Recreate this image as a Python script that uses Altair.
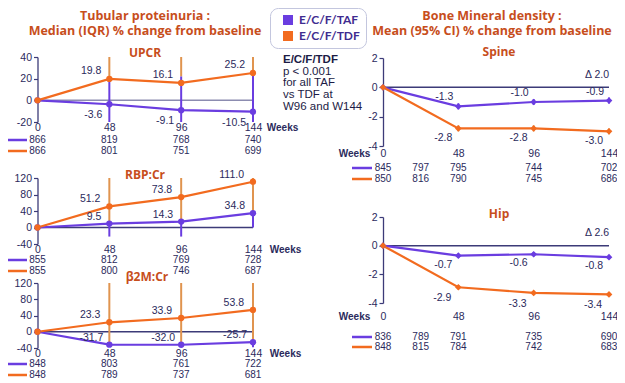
import altair as alt
import pandas as pd

# ---------------- data ----------------
SERIES = ["E/C/F/TAF", "E/C/F/TDF"]
WEEKS = [0, 48, 96, 144]
N_WEEKS_TP = [0, 48, 96, 144]
N_WEEKS_BMD = [0, 24, 48, 96, 144]

UPCR_TAF = [0, -3.6, -9.1, -10.5]
UPCR_TDF = [0, 19.8, 16.1, 25.2]
UPCR_TAF_LO = [0, -45, -45, -45]
UPCR_TAF_HI = [0, 20, 22, 25]
UPCR_TDF_LO = [0, 20, 22, 25]
UPCR_TDF_HI = [0, 70, 72, 80]
UPCR_N_TAF = [866, 819, 768, 740]
UPCR_N_TDF = [866, 801, 751, 699]

RBP_TAF = [0, 9.5, 14.3, 34.8]
RBP_TDF = [0, 51.2, 73.8, 111.0]
RBP_TAF_LO = [0, -22, -22, 0]
RBP_TAF_HI = [0, 10, 15, 35]
RBP_TDF_LO = [0, 10, 15, 35]
RBP_TDF_HI = [0, 150, 160, 180]
RBP_N_TAF = [855, 812, 769, 728]
RBP_N_TDF = [855, 800, 746, 687]

B2M_TAF = [0, -31.7, -32.0, -25.7]
B2M_TDF = [0, 23.3, 33.9, 53.8]
B2M_TAF_LO = [0, -34, -34, -38]
B2M_TAF_HI = [0, -30, -30, -24]
B2M_TDF_LO = [0, -32, -32, -26]
B2M_TDF_HI = [0, 140, 150, 170]
B2M_N_TAF = [848, 803, 761, 722]
B2M_N_TDF = [848, 789, 737, 681]

SPINE_TAF = [0, -1.3, -1.0, -0.9]
SPINE_TDF = [0, -2.8, -2.8, -3.0]
SPINE_TAF_LO = [0, -1.5, -1.2, -1.1]
SPINE_TAF_HI = [0, -1.1, -0.8, -0.7]
SPINE_TDF_LO = [0, -3.0, -3.0, -3.2]
SPINE_TDF_HI = [0, -2.6, -2.6, -2.8]
SPINE_N_TAF = [845, 797, 795, 744, 702]
SPINE_N_TDF = [850, 816, 790, 745, 686]

HIP_TAF = [0, -0.7, -0.6, -0.8]
HIP_TDF = [0, -2.9, -3.3, -3.4]
HIP_TAF_LO = [0, -0.85, -0.75, -0.95]
HIP_TAF_HI = [0, -0.55, -0.45, -0.65]
HIP_TDF_LO = [0, -3.05, -3.45, -3.55]
HIP_TDF_HI = [0, -2.75, -3.15, -3.25]
HIP_N_TAF = [836, 789, 791, 735, 690]
HIP_N_TDF = [848, 815, 784, 742, 683]

SPINE_DELTA = "\u0394 2.0"
HIP_DELTA = "\u0394 2.6"
NOTE_LINES = ["E/C/F/TDF", "p < 0.001", "for all TAF", "vs TDF at", "W96 and W144"]

# ---------------- style ----------------
W, H = 609, 372
PURPLE = "#6A3DE0"
ORANGE = "#F26B1F"
PURPLE_BAR = "#6A3DE0"
ORANGE_BAR = "#E0944F"
NAVY = "#2B2A5C"
AXIS = "#3C3B78"
TITLE = "#C74E1C"
FONT = "Liberation Sans"
TFONT = "Open Sans"

cscale = alt.Scale(domain=SERIES, range=[PURPLE, ORANGE])
LEGEND = alt.Legend(
    orient="none", legendX=262, legendY=0, title=None,
    symbolType="square", symbolSize=100, symbolStrokeWidth=0, symbolOffset=6,
    labelFont="Lato", labelFontSize=12, labelFontWeight="bold", labelColor="#3F2C90",
    labelOffset=5, rowPadding=4, padding=6, strokeColor="#C3C6DE",
    cornerRadius=8, fillColor="white",
)


def panel(taf, tdf, taf_lo, taf_hi, tdf_lo, tdf_hi, n_weeks, n_taf, n_tdf,
          x_range, y_domain, y_range, y_ticks, lab_pad, weeks_xy, row_y,
          zero_color, lbl_off, shape, psize):
    df = pd.DataFrame({
        "week": WEEKS * 2,
        "series": [SERIES[0]] * len(WEEKS) + [SERIES[1]] * len(WEEKS),
        "value": taf + tdf,
        "lo": taf_lo + tdf_lo,
        "hi": taf_hi + tdf_hi,
    })
    df["label"] = [f"{v:.1f}" for v in df["value"]]
    ndf = pd.DataFrame({
        "week": n_weeks * 2,
        "series": [SERIES[0]] * len(n_weeks) + [SERIES[1]] * len(n_weeks),
        "n": n_taf + n_tdf,
    })
    bottom = y_range[0]
    xs = alt.Scale(domain=[0, 144], range=x_range, nice=False, zero=False, padding=0)
    ys = alt.Scale(domain=y_domain, range=y_range, clamp=True, nice=False, zero=False, padding=0)
    xa = alt.Axis(orient="bottom", offset=bottom - H, values=WEEKS, domain=False,
                  ticks=False, tickSize=0, labelPadding=lab_pad, grid=False,
                  labelFlush=False, labelOverlap=False,
                  title="Weeks", titleX=weeks_xy[0], titleY=weeks_xy[1] - bottom,
                  titleAlign="center", titleBaseline="middle", titleAngle=0,
                  titleFontWeight="bold", titleFontSize=10, titleColor=NAVY, titleFont=FONT)
    ya = alt.Axis(orient="left", offset=-x_range[0], values=y_ticks, grid=False,
                  title=None, tickSize=4, labelPadding=2, labelOverlap=False,
                  labelExpr="replace(datum.label, '\u2212', '-')")

    def X(f):
        return alt.X(f, type="quantitative", scale=xs, axis=xa)

    def Y(f):
        return alt.Y(f, type="quantitative", scale=ys, axis=ya)

    base = alt.Chart(df)
    layers = []
    zero = alt.Chart(pd.DataFrame({"a": [0], "b": [144], "z": [0]})).mark_rule(
        color=zero_color, strokeWidth=1.5).encode(x=X("a"), x2="b", y=Y("z"))
    layers.append(zero)
    for s, c in zip(SERIES, [PURPLE, ORANGE]):
        layers.append(base.transform_filter(alt.datum.series == s)
                      .mark_line(color=c, strokeWidth=2.2)
                      .encode(x=X("week"), y=Y("value")))
    # error bars (IQR / 95% CI): TDF first, TAF drawn over it
    for s, c in zip(SERIES[::-1], [ORANGE_BAR, PURPLE_BAR]):
        sub = df[(df["series"] == s) & (df["week"] > 0)].reset_index(drop=True)
        edf = pd.DataFrame({"week": sub["week"], "lo": sub["lo"], "hi": sub["hi"]})
        layers.append(alt.Chart(edf)
                      .mark_rule(color=c, strokeWidth=2, opacity=1)
                      .encode(x=X("week"), y=Y("lo"), y2=alt.Y2("hi")))
    layers.append(base.mark_point(filled=True, size=psize, shape=shape, opacity=1)
                  .encode(x=X("week"), y=Y("value"),
                          color=alt.Color("series:N", scale=cscale, legend=LEGEND)))
    for s, (dx, dy) in zip(SERIES, lbl_off):
        layers.append(base.transform_filter((alt.datum.series == s) & (alt.datum.week > 0))
                      .mark_text(align="right", baseline="middle", dx=dx, dy=dy,
                                 fontSize=10.5, font=FONT, color=NAVY)
                      .encode(x=X("week"), y=Y("value"), text="label:N"))
    for s, yv in zip(SERIES, row_y):
        layers.append(alt.Chart(ndf).transform_filter(alt.datum.series == s)
                      .mark_text(align="center", baseline="middle", fontSize=10,
                                 font=FONT, color=NAVY)
                      .encode(x=X("week"), y=alt.value(yv), text="n:Q"))
    return alt.layer(*layers)


LEFT_X = [29.5, 245]
RIGHT_X = [375, 601]

p_upcr = panel(UPCR_TAF, UPCR_TDF, UPCR_TAF_LO, UPCR_TAF_HI, UPCR_TDF_LO, UPCR_TDF_HI,
               N_WEEKS_TP, UPCR_N_TAF, UPCR_N_TDF, LEFT_X, [-20, 40], [114, 49],
               [-20, 0, 20, 40], 0, (274, 119), [132, 143], "#8C8CB0",
               [(-7, 11), (-8, -8)], "circle", 40)
p_rbp = panel(RBP_TAF, RBP_TDF, RBP_TAF_LO, RBP_TAF_HI, RBP_TDF_LO, RBP_TDF_HI,
              N_WEEKS_TP, RBP_N_TAF, RBP_N_TDF, LEFT_X, [-40, 120], [236, 170],
              [-40, 0, 40, 80, 120], 0, (277, 241), [252, 263], AXIS,
              [(-8, -7), (-9, -7)], "circle", 40)
p_b2m = panel(B2M_TAF, B2M_TDF, B2M_TAF_LO, B2M_TAF_HI, B2M_TDF_LO, B2M_TDF_HI,
              N_WEEKS_TP, B2M_N_TAF, B2M_N_TDF, LEFT_X, [-40, 120], [340, 275],
              [-40, 0, 40, 80, 120], 0, (277, 345), [356, 367], AXIS,
              [(-6, -7), (-9, -7)], "circle", 40)
p_spine = panel(SPINE_TAF, SPINE_TDF, SPINE_TAF_LO, SPINE_TAF_HI, SPINE_TDF_LO, SPINE_TDF_HI,
                N_WEEKS_BMD, SPINE_N_TAF, SPINE_N_TDF, RIGHT_X, [-4, 2], [138, 50],
                [-4, -2, 0, 2], 2, (346, 145), [160, 171], AXIS,
                [(-5, -9), (-6, 10)], "diamond", 45)
p_hip = panel(HIP_TAF, HIP_TDF, HIP_TAF_LO, HIP_TAF_HI, HIP_TDF_LO, HIP_TDF_HI,
              N_WEEKS_BMD, HIP_N_TAF, HIP_N_TDF, RIGHT_X, [-4, 2], [295, 209],
              [-4, -2, 0, 2], 8, (346, 308), [329, 339], AXIS,
              [(-6, 9), (-7, 11)], "diamond", 45)


def txt(s, x, y, size=10.5, weight="normal", color=NAVY, font=FONT, align="center"):
    return alt.Chart(pd.DataFrame({"t": [s]})).mark_text(
        fontSize=size, fontWeight=weight, color=color, font=font, align=align,
        baseline="middle").encode(text="t:N", x=alt.value(x), y=alt.value(y))


def key(x0, x1, y, c):
    return alt.Chart(pd.DataFrame({"k": [0]})).mark_rule(color=c, strokeWidth=2.5).encode(
        x=alt.value(x0), x2=alt.value(x1), y=alt.value(y))


deco = [
    txt("Tubular proteinuria :", 137, 7.5, 12.5, "bold", TITLE, TFONT),
    txt("Median (IQR) % change from baseline", 137, 23, 12.5, "bold", TITLE, TFONT),
    txt("Bone Mineral density :", 484, 7.5, 12.5, "bold", TITLE, TFONT),
    txt("Mean (95% CI) % change from baseline", 484, 23, 12.5, "bold", TITLE, TFONT),
    txt("UPCR", 137, 45, 12, "bold", TITLE, TFONT),
    txt("RBP:Cr", 137, 167, 12, "bold", TITLE, TFONT),
    txt("\u03b22M:Cr", 139, 269, 12, "bold", TITLE, TFONT),
    txt("Spine", 491, 44, 12, "bold", TITLE, TFONT),
    txt("Hip", 491, 206, 12, "bold", TITLE, TFONT),
    txt(SPINE_DELTA, 601, 67, 10.5, align="right"),
    txt(HIP_DELTA, 601, 225, 10.5, align="right"),
]
for i, line in enumerate(NOTE_LINES):
    deco.append(txt(line, 275, [52, 64, 75, 87, 99][i], 11.5,
                    "bold" if i == 0 else "normal", "#1C1B45", FONT, "left"))
for ys_ in ([132, 143], [252, 263], [356, 367]):
    deco.append(key(0, 19, ys_[0], PURPLE))
    deco.append(key(0, 19, ys_[1], ORANGE))
for ys_ in ([160, 171], [329, 339]):
    deco.append(key(344, 364, ys_[0], PURPLE))
    deco.append(key(344, 364, ys_[1], ORANGE))

chart = (
    alt.layer(p_upcr, p_rbp, p_b2m, p_spine, p_hip, *deco)
    .resolve_scale(x="independent", y="independent")
    .properties(width=W, height=H, padding=0, autosize=alt.AutoSizeParams(type="none"))
    .configure_view(stroke=None)
    .configure_axis(labelFont=FONT, labelFontSize=10.5, labelColor=NAVY,
                    domainColor=AXIS, tickColor=AXIS, domainWidth=1.3, tickWidth=1.2)
)

chart.save("out.html", embed_options={"renderer": "svg", "actions": False})
